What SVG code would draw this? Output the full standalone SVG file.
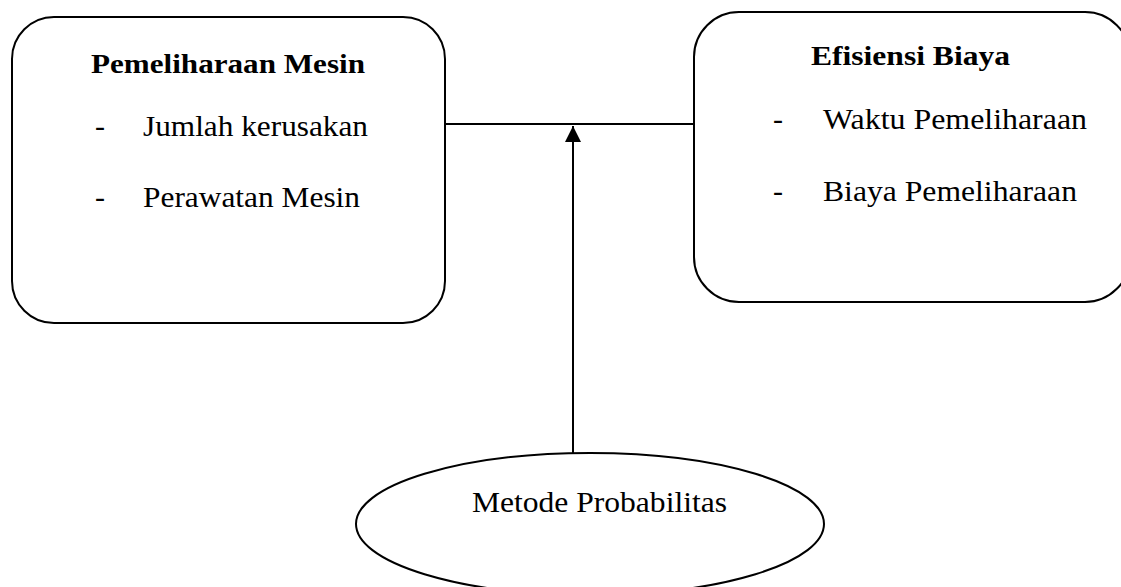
<svg xmlns="http://www.w3.org/2000/svg" width="1121" height="587" viewBox="0 0 1121 587">
<style>
  .box { fill: #ffffff; stroke: #000000; stroke-width: 2; }
  .conn { fill: none; stroke: #000000; stroke-width: 2; }
  .t { font-family: "Liberation Serif", "Times New Roman", serif; font-size: 30px; fill: #000000; }
  .b { font-weight: bold; font-size: 28px; }
</style>
<defs>
  <marker id="arrow" markerUnits="userSpaceOnUse" markerWidth="18" markerHeight="18" refX="16" refY="8" orient="auto">
    <path d="M0,0 L16,8 L0,16 Z" fill="#000000"/>
  </marker>
</defs>
<rect width="1121" height="587" fill="#ffffff"/>
<g id="node-pemeliharaan">
  <rect class="box" x="12" y="17" width="433" height="306" rx="42" ry="42"/>
  <text class="t b" x="91" y="73" textLength="274" lengthAdjust="spacingAndGlyphs">Pemeliharaan Mesin</text>
  <text class="t" x="95" y="136">-</text>
  <text class="t" x="143" y="136" textLength="225" lengthAdjust="spacingAndGlyphs">Jumlah kerusakan</text>
  <text class="t" x="95" y="207">-</text>
  <text class="t" x="143" y="207" textLength="217" lengthAdjust="spacingAndGlyphs">Perawatan Mesin</text>
</g>
<g id="node-efisiensi">
  <rect class="box" x="694" y="12" width="436" height="290" rx="45" ry="45"/>
  <text class="t b" x="811" y="65" textLength="199" lengthAdjust="spacingAndGlyphs">Efisiensi Biaya</text>
  <text class="t" x="773" y="129">-</text>
  <text class="t" x="823" y="129" textLength="264" lengthAdjust="spacingAndGlyphs">Waktu Pemeliharaan</text>
  <text class="t" x="773" y="201">-</text>
  <text class="t" x="823" y="201" textLength="254" lengthAdjust="spacingAndGlyphs">Biaya Pemeliharaan</text>
</g>
<g id="node-metode">
  <ellipse class="box" cx="590" cy="524" rx="234" ry="71"/>
  <text class="t" x="472" y="512" textLength="255" lengthAdjust="spacingAndGlyphs">Metode Probabilitas</text>
</g>
<g id="connectors">
  <line class="conn" x1="445" y1="124" x2="694" y2="124"/>
  <line class="conn" x1="573" y1="453" x2="573" y2="126" marker-end="url(#arrow)"/>
</g>
</svg>
